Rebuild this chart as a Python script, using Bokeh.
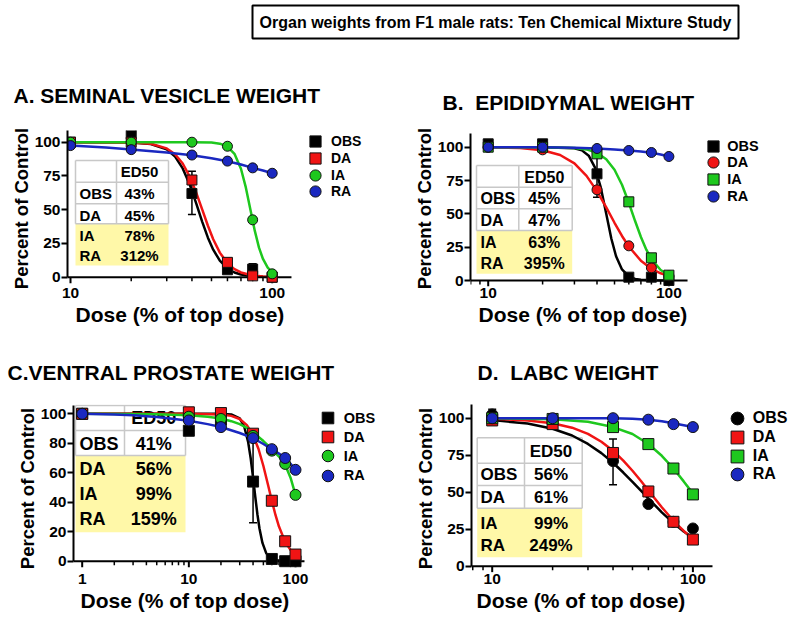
import math
from bokeh.plotting import figure
from bokeh.layouts import column, row
from bokeh.models import (Range1d, FixedTicker, PrintfTickFormatter, Legend, LegendItem,
                          Whisker, TeeHead, ColumnDataSource, Label, Title)
from bokeh.core.properties import value
from bokeh.embed import file_html
from bokeh.resources import INLINE

FONT = "Liberation Sans"
COLORS = {"OBS": "#000000", "DA": "#f01414", "IA": "#1ec81e", "RA": "#1a28c0"}
YELLOW = "#fff8a8"
GRIDC = "#c8c8c8"
SERIES = ["OBS", "DA", "IA", "RA"]
MAIN_TITLE = "Organ weights from F1 male rats: Ten Chemical Mixture Study"

# ---------------- data ----------------
# Panel A: seminal vesicle
doses_A = [10, 20, 40, 60, 80, 100]
obs_A = [100, 106, 62, 5.5, 6, 0]
da_A = [100, 100, 72, 11, 1, 0]
ia_A = [100, 100, 100, 97, 42.5, 2.5]
ra_A = [97.5, 94.5, 90.5, 86, 81, 77]
err_x_A = [40, 80]
err_lo_A = [46.5, 2]
err_hi_A = [78.5, 10]
ed50_A = [43, 45, 78, 312]
curveA_obs_x = [10, 20, 25, 30, 33, 36, 39, 42, 45, 48, 51, 55, 60, 65, 70, 80, 90, 100]
curveA_obs_y = [100, 99.8, 98.7, 94.7, 89.3, 80.6, 68.6, 54.7, 41, 29.3, 20.4, 12.2, 6.5, 3.5, 2, 0.7, 0.3, 0.1]
curveA_da_x = [10, 20, 25, 30, 33, 36, 39, 42, 45, 48, 51, 55, 60, 65, 70, 80, 90, 100]
curveA_da_y = [100, 99.8, 98.8, 95.4, 91.1, 84.2, 74.5, 62.7, 50, 38.1, 28.1, 18.2, 10.4, 6, 3.5, 1.3, 0.5, 0.25]
curveA_ia_x = [10, 40, 50, 55, 60, 65, 70, 74, 78, 82, 86, 90, 95, 100]
curveA_ia_y = [100, 99.9, 99.7, 98.9, 96.8, 91.4, 80.3, 66.5, 50, 34.3, 21.9, 13.5, 7.1, 3.8]
curveA_ra_x = [10, 15, 20, 30, 40, 50, 60, 70, 80, 90, 100]
curveA_ra_y = [97.5, 96, 94.6, 92.4, 90.3, 88.1, 85.9, 83.5, 81, 79, 77]

# Panel B: epididymis
doses_B = [10, 20, 40, 60, 80, 100]
obs_B = [102.5, 102.5, 80, 2.5, 2.5, 0]
da_B = [100, 98, 68, 26, 9.5, 3.5]
ia_B = [100, 100, 95, 59, 17, 4]
ra_B = [100, 100, 99, 97.5, 96, 93]
err_x_B = [40]
err_lo_B = [62.5]
err_hi_B = [97.5]
ed50_B = [45, 47, 63, 395]
curveB_obs_x = [10, 20, 30, 33, 36, 39, 42, 45, 48, 51, 55, 60, 65, 70, 80, 100]
curveB_obs_y = [100, 100, 99.2, 97.6, 93.6, 84.7, 69.6, 50, 31.5, 18.2, 8.3, 3.1, 1.2, 0.5, 0.1, 0]
curveB_da_x = [10, 15, 20, 25, 30, 35, 40, 45, 50, 55, 60, 70, 80, 90, 100]
curveB_da_y = [99.9, 99.4, 97.7, 94.1, 87.8, 78.5, 67, 54.8, 43.3, 33.4, 25.5, 14.8, 8.8, 5.4, 3.5]
curveB_ia_x = [10, 20, 30, 35, 40, 45, 50, 55, 60, 65, 70, 75, 80, 90, 100]
curveB_ia_y = [100, 100, 99.4, 98.3, 95.8, 91, 83.1, 71.8, 58.3, 44.6, 32.6, 23.1, 16.1, 7.9, 4]
curveB_ra_x = [10, 20, 30, 40, 50, 60, 70, 80, 90, 100]
curveB_ra_y = [100, 100, 99.6, 99, 98.3, 97.5, 96.8, 95.8, 94.5, 93]

# Panel C: ventral prostate
doses_C = [1, 10, 20, 40, 60, 80, 100]
obs_C = [100, 88.5, 96, 54, 1.5, 0, 0]
da_C = [100, 101, 100.5, 86.5, 41, 13.5, 4.5]
ia_C = [100, 98, 96.5, 85, 75, 66, 45]
ra_C = [100, 95.5, 91, 83.5, 76, 70, 62]
err_x_C = [10, 40]
err_lo_C = [88.5, 26]
err_hi_C = [103.5, 82]
ed50_C = [41, 56, 99, 159]
curveC_obs_x = [1, 10, 20, 25, 30, 33, 36, 38, 40, 42, 44, 46, 49, 53, 58, 65, 80, 100]
curveC_obs_y = [100, 100, 100, 99.6, 96.9, 91.6, 80.7, 69.8, 56.8, 43.4, 31.5, 22, 12.4, 5.6, 2.2, 0.6, 0.1, 0]
curveC_da_x = [1, 10, 20, 25, 30, 35, 40, 45, 50, 55, 60, 65, 70, 80, 90, 100]
curveC_da_y = [100, 100, 99.6, 98.6, 96.5, 92.3, 85.6, 76.1, 64.6, 52.4, 41, 31.2, 23.5, 13.1, 7.5, 4.4]
curveC_ia_x = [1, 5, 10, 15, 20, 25, 30, 35, 40, 50, 60, 70, 80, 90, 100]
curveC_ia_y = [100, 99.7, 99, 98, 96.8, 95, 93, 90.5, 87.5, 81.5, 76, 71, 65.5, 56.5, 45]
curveC_ra_x = [1, 2, 3, 5, 7, 10, 15, 20, 30, 40, 50, 60, 70, 80, 90, 100]
curveC_ra_y = [100, 99.6, 99, 97.8, 96.7, 95.3, 93, 91, 87, 83.5, 79.5, 76, 73, 70, 66, 62]

# Panel D: LABC
doses_D = [10, 20, 40, 60, 80, 100]
obs_D = [102.5, 99, 71, 42, 30, 25.5]
da_D = [98.5, 96, 76.5, 50.5, 30, 18]
ia_D = [100, 99.5, 94, 82.5, 66, 48.5]
ra_D = [100, 100, 100, 99, 96, 94]
err_x_D = [10, 40]
err_lo_D = [99, 55]
err_hi_D = [106, 86]
ed50_D = [56, 61, 99, 249]
curveD_obs_x = [10, 15, 20, 25, 30, 35, 40, 45, 50, 56, 60, 70, 80, 90, 100]
curveD_obs_y = [98.7, 96.4, 92.9, 88.3, 82.6, 76.4, 69.9, 63.3, 57, 50, 45.7, 36.4, 29.1, 23.4, 19]
curveD_da_x = [10, 15, 20, 25, 30, 35, 40, 45, 50, 55, 61, 70, 80, 90, 100]
curveD_da_y = [99.6, 98.5, 96.6, 93.6, 89.4, 84.1, 78, 71.3, 64.5, 57.7, 50, 39.8, 30.7, 23.8, 18.5]
curveD_ia_x = [10, 20, 30, 40, 50, 60, 70, 80, 90, 100]
curveD_ia_y = [99.9, 99.3, 97.6, 94, 89.3, 82.6, 74.6, 66, 57.3, 49.2]
curveD_ra_x = [10, 20, 30, 40, 50, 60, 70, 80, 90, 100]
curveD_ra_y = [100, 100, 100, 100, 99.6, 99, 98, 96.6, 95.3, 94]

# x tick positions: labelled decades and unlabelled intermediate ticks
xmajor_AB = [10, 100]
xminor_AB = [8, 9, 20, 30, 40, 50, 60, 70, 80, 90]
xmajor_C = [1, 10, 100]
xminor_C = [2, 3, 4, 5, 6, 7, 8, 9, 20, 30, 40, 50, 60, 70, 80, 90]

# ---------------- layout / style configuration ----------------
PANELS = [
    dict(title="A. SEMINAL VESICLE WEIGHT", title_offset=-54, title_standoff=48,
         fig=(0, 52, 398, 284), frame=(67, 130, 329, 156),
         xr=(9.663, 413.3), yr=(-6.89, 108.67), xbound=124.6, ybound=110,
         xlabel_offset=8, xlabel_standoff=1,
         xmaj=xmajor_AB, xmin=xminor_AB, ymaj=[0, 25, 50, 75, 100],
         doses=doses_A, vals=[obs_A, da_A, ia_A, ra_A],
         markers=["square", "square", "circle", "circle"], msize=10,
         curves=[(curveA_obs_x, curveA_obs_y), (curveA_da_x, curveA_da_y),
                 (curveA_ia_x, curveA_ia_y), (curveA_ra_x, curveA_ra_y)],
         err=(err_x_A, err_lo_A, err_hi_A), ed50=ed50_A,
         table=dict(cols=(75, 116, 168), hlines=[160, 181.7, 203.3, 223.3], ybot=265,
                    rows=[170.7, 193, 215, 235, 255], c1=79, c2=139, size="15px"),
         legend=dict(mx=315, cy=[141, 158, 175, 191], G=28, standoff=2, size="14px")),
    dict(title="B.\u00a0\u00a0EPIDIDYMAL WEIGHT", title_offset=-28, title_standoff=33,
         fig=(398, 52, 398, 284), frame=(470, 130, 324, 156),
         xr=(7.98, 495.5), yr=(-4.5, 112.5), xbound=126.8, ybound=110,
         xlabel_offset=8, xlabel_standoff=1,
         xmaj=xmajor_AB, xmin=xminor_AB, ymaj=[0, 25, 50, 75, 100],
         doses=doses_B, vals=[obs_B, da_B, ia_B, ra_B],
         markers=["square", "circle", "square", "circle"], msize=10,
         curves=[(curveB_obs_x, curveB_obs_y), (curveB_da_x, curveB_da_y),
                 (curveB_ia_x, curveB_ia_y), (curveB_ra_x, curveB_ra_y)],
         err=(err_x_B, err_lo_B, err_hi_B), ed50=ed50_B,
         table=dict(cols=(476, 518.3, 571.7), hlines=[165, 186.7, 208.3, 230], ybot=273.3,
                    rows=[176.7, 198.3, 220, 242.3, 263.3], c1=480, c2=543.8, size="16px"),
         legend=dict(mx=713.3, cy=[145.7, 162.3, 179, 196.3], G=28, standoff=0, size="14.5px")),
    dict(title="C.VENTRAL PROSTATE WEIGHT", title_offset=-66, title_standoff=41,
         fig=(0, 336, 398, 290), frame=(73, 404, 323, 168),
         xr=(0.829, 885), yr=(-7.67, 106.31), xbound=121.4, ybound=105.6,
         xlabel_offset=7, xlabel_standoff=0,
         xmaj=xmajor_C, xmin=xminor_C, ymaj=[0, 20, 40, 60, 80, 100],
         doses=doses_C, vals=[obs_C, da_C, ia_C, ra_C],
         markers=["square", "square", "circle", "circle"], msize=11,
         curves=[(curveC_obs_x, curveC_obs_y), (curveC_da_x, curveC_da_y),
                 (curveC_ia_x, curveC_ia_y), (curveC_ra_x, curveC_ra_y)],
         err=(err_x_C, err_lo_C, err_hi_C), ed50=ed50_C,
         table=dict(cols=(75, 124, 185), hlines=[405, 430, 455], ybot=531.7,
                    rows=[417.3, 443.3, 468.3, 493.3, 518.3], c1=79, c2=153.3, size="18px"),
         legend=dict(mx=327.3, cy=[417.7, 436.7, 455.7, 475], G=29, standoff=2, size="14.5px")),
    dict(title="D.\u00a0\u00a0LABC WEIGHT", title_offset=6, title_standoff=41,
         fig=(398, 336, 398, 290), frame=(471, 404, 323, 168),
         xr=(7.886, 320.8), yr=(-4.26, 109.26), xbound=125.2, ybound=110,
         xlabel_offset=5, xlabel_standoff=0,
         xmaj=xmajor_AB, xmin=xminor_AB, ymaj=[0, 25, 50, 75, 100],
         doses=doses_D, vals=[obs_D, da_D, ia_D, ra_D],
         markers=["circle", "square", "square", "circle"], msize=11,
         curves=[(curveD_obs_x, curveD_obs_y), (curveD_da_x, curveD_da_y),
                 (curveD_ia_x, curveD_ia_y), (curveD_ra_x, curveD_ra_y)],
         err=(err_x_D, err_lo_D, err_hi_D), ed50=ed50_D,
         table=dict(cols=(476.7, 524, 581.7), hlines=[437.3, 462.7, 485, 507.7], ybot=556.7,
                    rows=[450.7, 474, 496.7, 522.7, 545], c1=480, c2=550.5, size="17px"),
         legend=dict(mx=736.7, cy=[417.7, 436.7, 455.7, 474.3], G=32, standoff=0, size="16px")),
]


def style_axis(ax):
    ax.axis_label_text_font = FONT
    ax.axis_label_text_font_style = "bold"
    ax.axis_label_text_color = "black"
    ax.axis_label_standoff = 0
    ax.axis_line_width = 2
    ax.axis_line_color = "black"
    ax.major_tick_line_width = 2
    ax.major_tick_line_color = "black"
    ax.major_tick_out = 6
    ax.major_tick_in = 0
    ax.minor_tick_line_color = None
    ax.major_label_text_font = FONT
    ax.major_label_text_font_style = "bold"
    ax.major_label_text_font_size = "15.5px"
    ax.major_label_text_color = "black"
    ax.major_label_standoff = 1


def make_panel(cfg):
    gx, gy, gw, gh = cfg["fig"]
    fl, ft, fw, fh = cfg["frame"]
    xr, yr = cfg["xr"], cfg["yr"]
    p = figure(width=gw, height=gh, x_axis_type="log",
               x_range=Range1d(*xr), y_range=Range1d(*yr),
               min_border_left=int(fl - gx), min_border_right=int(gx + gw - fl - fw),
               min_border_top=int(ft - gy), min_border_bottom=int(gy + gh - ft - fh),
               toolbar_location=None, output_backend="svg")
    p.xgrid.visible = False
    p.ygrid.visible = False
    p.outline_line_color = None
    p.background_fill_color = "white"
    p.border_fill_color = "white"

    lx0, lx1 = math.log10(xr[0]), math.log10(xr[1])

    def X(px):
        return 10 ** (lx0 + (px - fl) / fw * (lx1 - lx0))

    def Y(py):
        return yr[1] - (py - ft) / fh * (yr[1] - yr[0])

    def PY(v):
        return ft + (yr[1] - v) / (yr[1] - yr[0]) * fh

    # panel title
    p.title.text = cfg["title"]
    p.title.text_font = FONT
    p.title.text_font_style = "bold"
    p.title.text_font_size = "21px"
    p.title.text_color = "black"
    p.title.align = "left"
    p.title.offset = cfg["title_offset"]
    p.title.standoff = cfg["title_standoff"]

    # y axis (Bokeh axis at the frame's left edge)
    xa, ya = p.xaxis[0], p.yaxis[0]
    style_axis(ya)
    ya.axis_label = "Percent of Control"
    ya.axis_label_text_font_size = "18.5px"
    ya.ticker = FixedTicker(ticks=cfg["ymaj"])
    ya.bounds = (0, cfg["ybound"])

    # x axis: Bokeh draws only the labels below the frame; line and ticks are drawn at y = 0
    style_axis(xa)
    xa.axis_line_color = None
    xa.major_tick_line_color = None
    xa.major_tick_out = 0
    xa.ticker = FixedTicker(ticks=cfg["xmaj"])
    xa.formatter = PrintfTickFormatter(format="%d")
    p.add_layout(Title(text="Dose (% of top dose)", align="left", offset=cfg["xlabel_offset"],
                       standoff=cfg["xlabel_standoff"], text_font=FONT, text_font_style="bold",
                       text_font_size="21px", text_color="black"), "below")

    # ED50 table
    t = cfg["table"]
    left, mid, right = t["cols"]
    hl = t["hlines"]
    p.quad(left=[X(left)], right=[X(right)], top=[Y(hl[-1])], bottom=[Y(t["ybot"])],
           fill_color=YELLOW, line_color=None)
    x0 = [X(left)] * len(hl) + [X(left), X(mid), X(right)]
    x1 = [X(right)] * len(hl) + [X(left), X(mid), X(right)]
    y0 = [Y(h) for h in hl] + [Y(hl[0])] * 3
    y1 = [Y(h) for h in hl] + [Y(hl[-1])] * 3
    p.segment(x0=x0, y0=y0, x1=x1, y1=y1, line_color=GRIDC, line_width=1.5)
    col1 = [""] + SERIES
    col2 = ["ED50"] + ["%d%%" % v for v in cfg["ed50"]]
    ys = [Y(r) for r in t["rows"]]
    p.text(x=[X(t["c1"])] * 5, y=ys, text=col1, text_font=value(FONT), text_font_style="bold",
           text_font_size=t["size"], text_align="left", text_baseline="middle", text_color="black")
    p.text(x=[X(t["c2"])] * 5, y=ys, text=col2, text_font=value(FONT), text_font_style="bold",
           text_font_size=t["size"], text_align="center", text_baseline="middle", text_color="black")

    # error bars
    ex, elo, ehi = cfg["err"]
    src = ColumnDataSource(dict(base=ex, lower=elo, upper=ehi))
    p.add_layout(Whisker(source=src, base="base", lower="lower", upper="upper", dimension="height",
                         line_color="black", line_width=1.5,
                         upper_head=TeeHead(size=8, line_color="black", line_width=1.5),
                         lower_head=TeeHead(size=8, line_color="black", line_width=1.5)))

    # fitted curves
    for name, (cx, cy) in zip(SERIES, cfg["curves"]):
        p.line(cx, cy, line_color=COLORS[name], line_width=2.5)

    # x axis line and tick marks at y = 0
    y0px = PY(0)
    maj_end = Y(y0px + 6)
    min_end = Y(y0px + 4)
    p.segment(x0=[xr[0]], y0=[0], x1=[cfg["xbound"]], y1=[0], line_color="black", line_width=2)
    p.segment(x0=cfg["xmaj"], y0=[0] * len(cfg["xmaj"]), x1=cfg["xmaj"],
              y1=[maj_end] * len(cfg["xmaj"]), line_color="black", line_width=2)
    p.segment(x0=cfg["xmin"], y0=[0] * len(cfg["xmin"]), x1=cfg["xmin"],
              y1=[min_end] * len(cfg["xmin"]), line_color="black", line_width=1.5)

    # data points
    rends = []
    for name, vals, mk in zip(SERIES, cfg["vals"], cfg["markers"]):
        r = p.scatter(cfg["doses"], vals, marker=mk, size=cfg["msize"],
                      fill_color=COLORS[name], line_color="#111111", line_width=1)
        rends.append(r)

    # legend: one entry per Legend so the rows can sit closer than the glyph box
    lg = cfg["legend"]
    G = lg["G"]
    for name, r, cy in zip(SERIES, rends, lg["cy"]):
        box_left = lg["mx"] - G / 2
        box_bottom = cy + G / 2
        leg = Legend(items=[LegendItem(label=name, renderers=[r])],
                     location=(box_left - fl, (ft + fh) - box_bottom),
                     orientation="vertical", glyph_width=G, glyph_height=G,
                     spacing=0, padding=0, margin=0, label_standoff=lg["standoff"],
                     border_line_color=None, background_fill_alpha=0,
                     label_text_font=FONT, label_text_font_style="bold",
                     label_text_font_size=lg["size"], label_text_color="black")
        p.add_layout(leg)
    return p


# main title box
tf = figure(width=796, height=52, x_range=Range1d(0, 1), y_range=Range1d(0, 1),
            min_border_left=252, min_border_right=58, min_border_top=5, min_border_bottom=14,
            toolbar_location=None, output_backend="svg", x_axis_type=None, y_axis_type=None)
tf.outline_line_color = "black"
tf.outline_line_width = 2
tf.add_layout(Label(x=0.5, y=0.5, text=MAIN_TITLE, text_align="center", text_baseline="middle",
                    text_font=FONT, text_font_style="bold", text_font_size="16px",
                    text_color="black"))

panels = [make_panel(c) for c in PANELS]
p = column(tf, row(panels[0], panels[1]), row(panels[2], panels[3]))

open("out.html", "w").write(file_html(p, INLINE))
